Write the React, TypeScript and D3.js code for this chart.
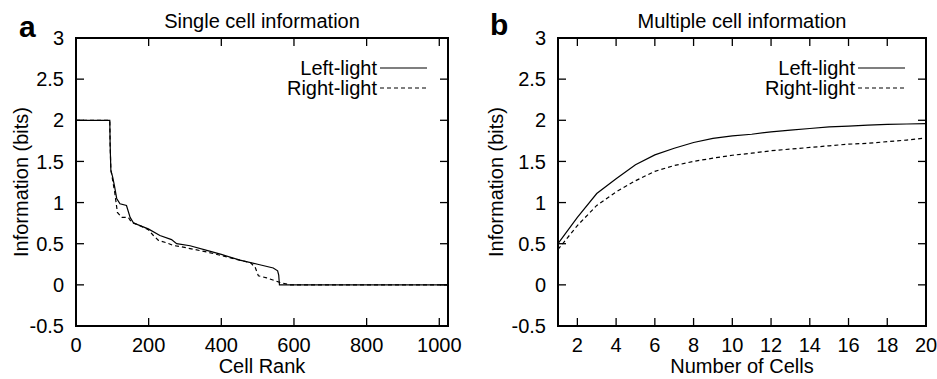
import { useEffect, useRef } from 'react';
import * as d3 from 'd3';

// panel a: single cell information vs cell rank
const rankLeft = [0, 93, 94, 96, 101, 106, 112, 121, 139, 149, 158, 176, 199, 231, 263, 277, 314, 360, 400, 451, 500, 543, 555, 558, 560, 1024];
const infoLeft = [2, 2, 1.7, 1.39, 1.31, 1.2, 1.05, 0.985, 0.965, 0.82, 0.755, 0.72, 0.68, 0.6, 0.55, 0.5, 0.475, 0.42, 0.37, 0.3, 0.25, 0.205, 0.17, 0.12, 0, 0];
const rankRight = [0, 93, 94, 96, 98, 107, 114, 126, 144, 153, 176, 199, 213, 227, 250, 268, 286, 360, 451, 480, 493, 502, 525, 561, 589, 1024];
const infoRight = [2, 2, 1.7, 1.39, 1.35, 1.11, 0.88, 0.82, 0.82, 0.76, 0.72, 0.67, 0.6, 0.54, 0.51, 0.478, 0.466, 0.4, 0.3, 0.27, 0.215, 0.11, 0.085, 0.03, 0, 0];

// panel b: multiple cell information vs number of cells
const nCells = d3.range(1, 21);
const multiLeft = [0.5, 0.82, 1.11, 1.29, 1.46, 1.58, 1.66, 1.73, 1.78, 1.81, 1.83, 1.86, 1.88, 1.9, 1.92, 1.93, 1.94, 1.95, 1.955, 1.96];
const multiRight = [0.43, 0.72, 0.965, 1.13, 1.265, 1.38, 1.45, 1.5, 1.54, 1.575, 1.6, 1.63, 1.65, 1.67, 1.69, 1.71, 1.72, 1.74, 1.76, 1.785];

const yTicks = [-0.5, 0, 0.5, 1, 1.5, 2, 2.5, 3];
const xTicksA = [0, 200, 400, 600, 800, 1000];
const xTicksB = [2, 4, 6, 8, 10, 12, 14, 16, 18, 20];
const seriesNames = ['Left-light', 'Right-light'];

const FONT = '"Liberation Sans", Arial, Helvetica, sans-serif';

const App = () => {
  const svgRef = useRef<SVGSVGElement>(null);

  useEffect(() => {
    const svg = d3.select(svgRef.current);
    svg.selectAll('*').remove();

    const top = 38;
    const bottom = 326;

    const drawPanel = (opts: {
      left: number; right: number; xDomain: [number, number]; xTicks: number[];
      title: string; letter: string; letterX: number; letterY: number; xLabel: string; yLabelX: number;
      lines: { x: number[]; y: number[]; dash: string | null }[];
    }) => {
      const x = d3.scaleLinear().domain(opts.xDomain).range([opts.left, opts.right]);
      const y = d3.scaleLinear().domain([-0.5, 3]).range([bottom, top]);
      const g = svg.append('g');
      const tick = 8;

      // ticks (mirrored on all sides)
      yTicks.forEach(t => {
        g.append('line').attr('x1', opts.left).attr('x2', opts.left + tick)
          .attr('y1', y(t)).attr('y2', y(t)).attr('stroke', '#000').attr('stroke-width', 1.3);
        g.append('line').attr('x1', opts.right).attr('x2', opts.right - tick)
          .attr('y1', y(t)).attr('y2', y(t)).attr('stroke', '#000').attr('stroke-width', 1.3);
        g.append('text').attr('x', opts.left - 12).attr('y', y(t)).attr('dy', '0.36em')
          .attr('text-anchor', 'end').attr('font-size', 20).attr('font-family', FONT)
          .text(t);
      });
      opts.xTicks.forEach(t => {
        g.append('line').attr('x1', x(t)).attr('x2', x(t))
          .attr('y1', bottom).attr('y2', bottom - tick).attr('stroke', '#000').attr('stroke-width', 1.3);
        g.append('line').attr('x1', x(t)).attr('x2', x(t))
          .attr('y1', top).attr('y2', top + tick).attr('stroke', '#000').attr('stroke-width', 1.3);
        g.append('text').attr('x', x(t)).attr('y', 352)
          .attr('text-anchor', 'middle').attr('font-size', 20).attr('font-family', FONT)
          .text(t);
      });

      // curves
      opts.lines.forEach(s => {
        const pts: [number, number][] = s.x.map((v, i) => [v, s.y[i]]);
        g.append('path')
          .attr('d', d3.line<[number, number]>().x(d => x(d[0])).y(d => y(d[1]))(pts))
          .attr('fill', 'none').attr('stroke', '#000').attr('stroke-width', 1.2)
          .attr('stroke-dasharray', s.dash);
      });

      // frame
      g.append('rect').attr('x', opts.left).attr('y', top)
        .attr('width', opts.right - opts.left).attr('height', bottom - top)
        .attr('fill', 'none').attr('stroke', '#000').attr('stroke-width', 2);

      // legend
      seriesNames.forEach((name, i) => {
        const ly = 68 + i * 20;
        g.append('text').attr('x', opts.right - 71).attr('y', ly).attr('dy', '0.36em')
          .attr('text-anchor', 'end').attr('font-size', 20).attr('font-family', FONT).text(name);
        g.append('line').attr('x1', opts.right - 68).attr('x2', opts.right - 21)
          .attr('y1', ly).attr('y2', ly).attr('stroke', '#000').attr('stroke-width', 1.2)
          .attr('stroke-dasharray', opts.lines[i].dash);
      });

      // titles and labels
      const cx = (opts.left + opts.right) / 2;
      g.append('text').attr('x', cx).attr('y', 28).attr('text-anchor', 'middle')
        .attr('font-size', 20).attr('font-family', FONT).text(opts.title);
      g.append('text').attr('x', cx).attr('y', 373).attr('text-anchor', 'middle')
        .attr('font-size', 20).attr('font-family', FONT).text(opts.xLabel);
      g.append('text')
        .attr('transform', `translate(${opts.yLabelX},${(top + bottom) / 2}) rotate(-90)`)
        .attr('text-anchor', 'middle').attr('font-size', 20).attr('font-family', FONT)
        .text('Information (bits)');
      g.append('text').attr('x', opts.letterX).attr('y', opts.letterY)
        .attr('font-size', 30).attr('font-weight', 'bold').attr('font-family', FONT).text(opts.letter);
    };

    drawPanel({
      left: 76, right: 448, xDomain: [0, 1024], xTicks: xTicksA,
      title: 'Single cell information', letter: 'a', letterX: 19, letterY: 37,
      xLabel: 'Cell Rank', yLabelX: 28,
      lines: [
        { x: rankLeft, y: infoLeft, dash: null },
        { x: rankRight, y: infoRight, dash: '4,3' },
      ],
    });

    drawPanel({
      left: 558, right: 926, xDomain: [1, 20], xTicks: xTicksB,
      title: 'Multiple cell information', letter: 'b', letterX: 490, letterY: 35,
      xLabel: 'Number of Cells', yLabelX: 503,
      lines: [
        { x: nCells, y: multiLeft, dash: null },
        { x: nCells, y: multiRight, dash: '4,3' },
      ],
    });
  }, []);

  return (
    <svg ref={svgRef} width={937} height={379}
      style={{ position: 'absolute', left: 0, top: 0, background: '#fff' }} />
  );
};

export default App;
